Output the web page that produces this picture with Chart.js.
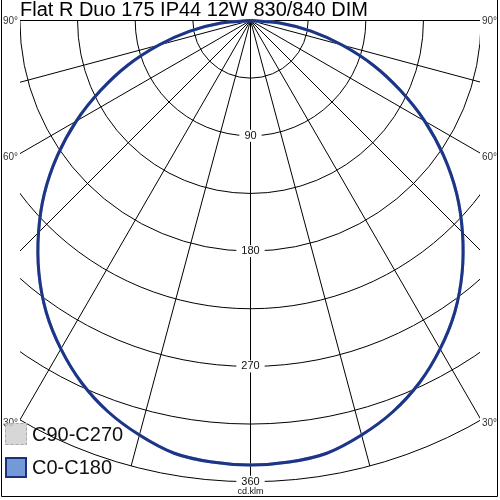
<!DOCTYPE html>
<html><head><meta charset="utf-8">
<script src="https://cdn.jsdelivr.net/npm/chart.js@4/dist/chart.umd.min.js"></script>
<style>html,body{margin:0;padding:0;background:#fff;}canvas{display:block;}</style>
</head><body>
<canvas id="c" width="500" height="500"></canvas>
<script>
// ---- data ----
const titleText = 'Flat R Duo 175 IP44 12W 830/840 DIM';
const gammaAngles = [0,5,10,15,20,25,30,35,40,45,50,55,60,65,70,75,80,85,90];
const intensityC0C180  = [347,346,343,335,325,312,296,278,257,234,210,184,157,129,102,74,48,23,0];
const intensityC90C270 = [347,346,343,335,325,312,296,278,257,234,210,184,157,129,102,74,48,23,0];
const ringValues = [45,90,135,180,225,270,315,360];
const ringLabelValues = [90,180,270,360];
const spokeAngles = [0,15,30,45,60,75,90];
const spokeLabelAngles = [30,60,90];
const unitLabel = 'cd.klm';
const seriesNames = ['C0-C180','C90-C270'];

function toPoints(angles, vals){
  const pts = [];
  for (let i = angles.length - 1; i >= 0; i--) {
    const a = angles[i]*Math.PI/180;
    pts.push({x: -vals[i]*Math.sin(a), y: -vals[i]*Math.cos(a)});
  }
  for (let i = 1; i < angles.length; i++) {
    const a = angles[i]*Math.PI/180;
    pts.push({x: vals[i]*Math.sin(a), y: -vals[i]*Math.cos(a)});
  }
  return pts;
}

const FONT = '"Liberation Sans", Arial, sans-serif';
const K = 1.2811; // px per cd/klm

const polarGrid = {
  id: 'polarGrid',
  beforeDatasetsDraw(chart){
    const {ctx, chartArea: ca, scales: {x, y}} = chart;
    const cx = x.getPixelForValue(0), cy = y.getPixelForValue(0);
    const rad = v => x.getPixelForValue(v) - cx;
    ctx.save();
    ctx.beginPath();
    ctx.rect(ca.left, ca.top, ca.right - ca.left, ca.bottom - ca.top);
    ctx.clip();
    ctx.strokeStyle = '#000';
    ctx.lineWidth = 1;
    ringValues.forEach(v => {
      ctx.beginPath();
      ctx.arc(cx, cy, rad(v), 0, Math.PI);
      ctx.stroke();
    });
    const R = rad(ringValues[ringValues.length-1]);
    spokeAngles.forEach(a => {
      const t = a*Math.PI/180;
      [-1, 1].forEach(s => {
        ctx.beginPath();
        ctx.moveTo(cx, cy);
        ctx.lineTo(cx + s*R*Math.sin(t), cy + R*Math.cos(t));
        ctx.stroke();
      });
    });
    ctx.restore();

    // angle labels at edges
    ctx.save();
    ctx.font = '10px ' + FONT;
    ctx.fillStyle = '#333';
    ctx.textBaseline = 'middle';
    spokeLabelAngles.forEach(a => {
      const t = a*Math.PI/180;
      const half = cx - ca.left;
      let rr = Math.min(R, half/Math.sin(t));
      const ey = cy + rr*Math.cos(t);
      const off = a === 90 ? 1 : 4;
      ctx.textAlign = 'left';
      ctx.fillText(a + '°', 3, ey + off);
      ctx.fillText(a + '°', ca.right + 2, ey + off);
    });
    ctx.restore();
  },
  afterDatasetsDraw(chart){
    const {ctx, scales: {x, y}} = chart;
    const cx = x.getPixelForValue(0);
    ctx.save();
    ctx.font = '11px ' + FONT;
    ctx.textAlign = 'center';
    ctx.textBaseline = 'middle';
    ringLabelValues.forEach(v => {
      const py = y.getPixelForValue(-v);
      const w = ctx.measureText(String(v)).width;
      ctx.fillStyle = '#fff';
      ctx.fillRect(cx - w/2 - 5, py - 6, w + 10, 12);
      ctx.fillStyle = '#111';
      ctx.fillText(String(v), cx, py);
    });
    ctx.font = '9px ' + FONT;
    ctx.fillStyle = '#111';
    ctx.fillText(unitLabel, cx, 492);
    ctx.restore();
  },
  afterDraw(chart){
    const {ctx} = chart;
    ctx.save();
    // legend
    ctx.fillStyle = 'rgba(205,205,205,0.8)';
    ctx.fillRect(5, 423, 22, 22);
    ctx.strokeStyle = '#a8a8a8';
    ctx.lineWidth = 1;
    ctx.setLineDash([3,2]);
    ctx.strokeRect(5.5, 423.5, 21, 21);
    ctx.setLineDash([]);
    ctx.fillStyle = '#7399d9';
    ctx.fillRect(5, 457, 22, 21);
    ctx.strokeStyle = '#1d2f7d';
    ctx.lineWidth = 2;
    ctx.strokeRect(6, 458, 20, 19);
    ctx.font = '20px ' + FONT;
    ctx.fillStyle = '#111';
    ctx.textAlign = 'left';
    ctx.textBaseline = 'middle';
    ctx.fillText(seriesNames[1], 32, 435);
    ctx.fillText(seriesNames[0], 32, 468);
    // frame
    ctx.strokeStyle = '#000';
    ctx.lineWidth = 1;
    ctx.beginPath();
    ctx.moveTo(1.5, 0); ctx.lineTo(1.5, 496.5); ctx.lineTo(497.5, 496.5); ctx.lineTo(497.5, 0);
    ctx.stroke();
    ctx.restore();
  }
};

new Chart(document.getElementById('c'), {
  type: 'scatter',
  data: {
    datasets: [
      {label: seriesNames[0], data: toPoints(gammaAngles, intensityC0C180), showLine: true,
       borderColor: '#1c3586', borderWidth: 3, pointRadius: 0, tension: 0.35, fill: false, clip: false},
      {label: seriesNames[1], data: toPoints(gammaAngles, intensityC90C270), showLine: true,
       borderColor: '#9fb0d8', borderWidth: 3, pointRadius: 0, tension: 0.35, fill: false, clip: false}
    ]
  },
  options: {
    responsive: false,
    animation: false,
    events: [],
    layout: {padding: {left: 20, right: 20, top: 0, bottom: 0}},
    scales: {
      x: {type: 'linear', display: false, min: -(250.5-20)/K, max: (480-250.5)/K},
      y: {type: 'linear', display: false, min: -(500-20.5)/K, max: (20.5-20)/K}
    },
    plugins: {
      legend: {display: false},
      tooltip: {enabled: false},
      title: {
        display: true, text: titleText, align: 'start', fullSize: false,
        color: '#000', font: {family: FONT, size: 20, weight: 'normal', lineHeight: 1},
        padding: {top: 0, bottom: 0}
      }
    }
  },
  plugins: [polarGrid]
});
</script>
</body></html>
